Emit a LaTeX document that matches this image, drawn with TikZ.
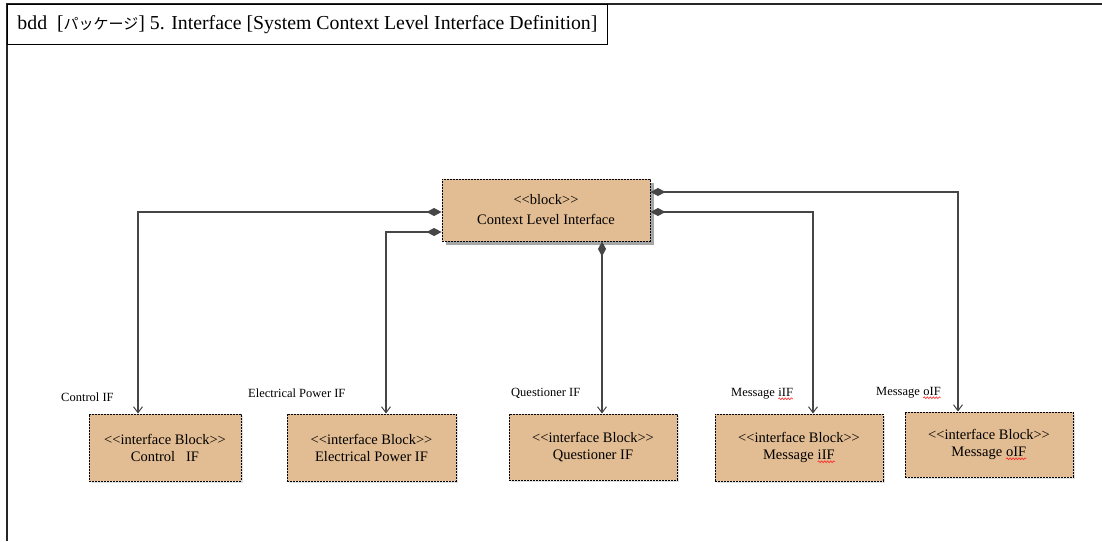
\documentclass[tikz,border=0pt]{standalone}
\usepackage{fontspec}
\setmainfont{Liberation Serif}
\newfontfamily\jafont{Noto Sans CJK JP}
\usetikzlibrary{arrows.meta,decorations.pathmorphing,shadows}
\definecolor{blocktan}{RGB}{226,188,146}
\definecolor{linegray}{RGB}{70,70,70}
\tikzset{
  blockbox/.style={draw=black, fill=blocktan, dash pattern=on 2pt off 1pt,
    line width=0.9pt, align=center, font=\fontsize{14.5}{17}\selectfont},
  mainshadow/.style={drop shadow={shadow xshift=4pt, shadow yshift=-4pt,
    fill=black!35, opacity=1}},
  softshadow/.style={drop shadow={shadow xshift=2pt, shadow yshift=-2pt,
    fill=black!12, opacity=1}},
  link/.style={draw=linegray, line width=1.3pt,
    {Diamond[length=15pt,width=8pt,fill=linegray]}-{Straight Barb[length=6pt,width=9pt,line width=1pt]}},
  iflabel/.style={anchor=west, inner sep=0pt, font=\fontsize{12.5}{15}\selectfont},
  squiggle/.style={draw=red!85, line width=0.6pt,
    decorate, decoration={snake, amplitude=0.9pt, segment length=3pt}}
}
% word with a red wavy spell-check mark underneath
\newcommand\wavyword[1]{\tikz[baseline=(w.base)]{%
  \node[inner sep=0pt, outer sep=0pt, minimum width=0pt, minimum height=0pt,
    draw=none, fill=none, solid, anchor=base] (w) {#1};
  \draw[squiggle, solid] ([yshift=-2.5pt]w.base west) -- ([yshift=-2.5pt]w.base east);}}
\begin{document}
\begin{tikzpicture}[x=1pt,y=-1pt]
  \useasboundingbox (0,0) rectangle (1102,541);
  % diagram frame and header
  \draw[line width=1.6pt, black!85] (7,541) -- (7,4) -- (1102,4);
  \node (title) [draw, line width=0.9pt, anchor=north west, minimum height=40pt,
    inner xsep=10pt, font=\fontsize{19.8}{22}\selectfont]
    at (7,4) {bdd\ \ [{\jafont\fontsize{15}{18}\selectfont パッケージ}] 5. Interface [System Context Level Interface Definition]};

  % context block
  \node (main) [blockbox, mainshadow, minimum width=208pt, minimum height=62pt]
    at (546,210) {<{}<block>{}>\\[3pt]Context Level Interface};

  % interface blocks
  \node (ctrl) [blockbox, softshadow, minimum width=152pt, minimum height=67pt]
    at (165,447.5) {<{}<interface Block>{}>\\Control\ \ \ IF};
  \node (elec) [blockbox, softshadow, minimum width=169pt, minimum height=67pt]
    at (371.5,447.5) {<{}<interface Block>{}>\\Electrical Power IF};
  \node (ques) [blockbox, softshadow, minimum width=168pt, minimum height=66pt]
    at (593,447) {<{}<interface Block>{}>\\Questioner IF};
  \node (msgi) [blockbox, softshadow, minimum width=168pt, minimum height=67pt]
    at (799,447.5) {<{}<interface Block>{}>\\Message \wavyword{iIF}};
  \node (msgo) [blockbox, softshadow, minimum width=168pt, minimum height=65pt]
    at (989,444.5) {<{}<interface Block>{}>\\Message \wavyword{oIF}};

  % composition connectors
  \draw[link] ([yshift=-2pt]main.west) -| ([xshift=-27pt]ctrl.north);
  \draw[link] ([yshift=-22pt]main.west) -| ([xshift=14.5pt]elec.north);
  \draw[link] ([xshift=56pt]main.south) -- ([xshift=9pt]ques.north);
  \draw[link] ([yshift=-2pt]main.east) -| ([xshift=14pt]msgi.north);
  \draw[link] ([yshift=18pt]main.east) -| ([xshift=-31pt]msgo.north);

  % connector labels
  \node (lctrl) [iflabel] at (61,397) {Control IF};
  \node (lelec) [iflabel] at (248,393) {Electrical Power IF};
  \node (lques) [iflabel] at (511,393) {Questioner IF};
  \node (lmsgi) [iflabel] at (731,394) {Message \wavyword{iIF}};
  \node (lmsgo) [iflabel] at (876,393) {Message \wavyword{oIF}};
\end{tikzpicture}
\end{document}
